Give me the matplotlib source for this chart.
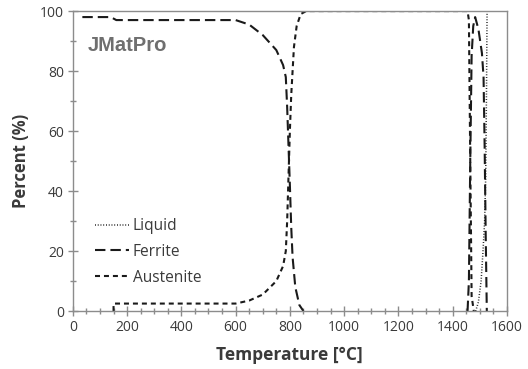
import matplotlib
matplotlib.use("Agg")
import matplotlib.pyplot as plt
from matplotlib.ticker import MultipleLocator

# Phase fractions (%) versus temperature (°C)
liquid_T = [1485, 1495, 1505, 1512, 1518, 1522, 1525, 1527, 1600]
liquid_pct = [0, 3, 10, 20, 30, 45, 75, 100, 100]

# alpha ferrite (low temperature) and delta ferrite (high temperature)
alpha_T = [35, 140, 160, 600, 650, 700, 750, 775, 785, 790, 795, 800, 805, 810, 820, 835, 850]
alpha_pct = [98, 98, 97, 97, 95.5, 92, 87, 82, 78, 68, 55, 42, 28, 18, 8, 2, 0]
delta_T = [1455, 1460, 1465, 1470, 1476, 1483, 1495, 1508, 1514, 1518, 1522, 1526]
delta_pct = [0, 10, 50, 85, 95, 98, 94, 86, 78, 55, 25, 0]

austenite_T = [150, 150, 600, 650, 700, 750, 775, 785, 790, 795, 800, 805, 810, 815, 825,
               840, 860, 1455, 1460, 1465, 1470, 1478]
austenite_pct = [0, 2.5, 2.5, 3.5, 5.5, 10, 15, 20, 30, 45, 60, 72, 80, 88, 95,
                 99, 100, 100, 97, 50, 5, 0]

x_ticks = [0, 200, 400, 600, 800, 1000, 1200, 1400, 1600]
y_ticks = [0, 20, 40, 60, 80, 100]

text_col = "#3a3a3a"
axis_col = "#8c8c8c"
line_col = "#1a1a1a"

plt.rcParams["font.family"] = ["Open Sans", "DejaVu Sans"]

fig = plt.figure(figsize=(5.28, 3.69), dpi=100)
ax = fig.add_axes([0.138, 0.157, 0.822, 0.813])

lw = 1.5
ax.plot(liquid_T, liquid_pct, color=line_col, lw=1.1, dashes=(0.6, 1.2), label="Liquid")
ax.plot(alpha_T, alpha_pct, color=line_col, lw=lw, dashes=(5, 2.4), label="Ferrite")
ax.plot(delta_T, delta_pct, color=line_col, lw=lw, dashes=(5, 2.4))
ax.plot(austenite_T, austenite_pct, color=line_col, lw=lw, dashes=(2.4, 1.9), label="Austenite")

ax.set_xlim(0, 1600)
ax.set_ylim(0, 100)
ax.set_xticks(x_ticks)
ax.set_yticks(y_ticks)
ax.xaxis.set_minor_locator(MultipleLocator(50))
ax.yaxis.set_minor_locator(MultipleLocator(10))
ax.tick_params(which="major", direction="inout", length=7, width=1, color=axis_col,
               labelsize=10, labelcolor=text_col, pad=3)
ax.tick_params(which="minor", direction="inout", length=5, width=1, color=axis_col)
ax.tick_params(top=False, right=False, which="both")
for s in ax.spines.values():
    s.set_color(axis_col)
    s.set_linewidth(1)

ax.set_xlabel("Temperature [°C]", fontsize=12.5, fontweight="bold", color=text_col, labelpad=8)
ax.set_ylabel("Percent (%)", fontsize=12, fontweight="bold", color=text_col, labelpad=7)

ax.text(0.035, 0.885, "JMatPro", transform=ax.transAxes, fontsize=14.5, fontweight="bold",
        family=["Liberation Sans", "DejaVu Sans"], color="#6f6f6f",
        ha="left", va="center")

leg = ax.legend(loc="upper left", bbox_to_anchor=(0.036, 0.33), frameon=False,
                fontsize=11.2, handlelength=2.2, handletextpad=0.25, labelspacing=0.62,
                borderaxespad=0)
for t in leg.get_texts():
    t.set_color(text_col)

fig.savefig("out.png", dpi=100)
